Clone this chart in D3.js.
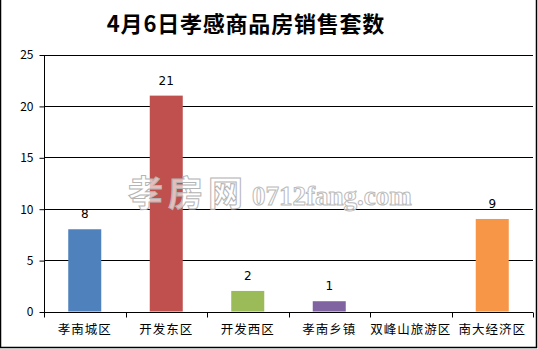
<!DOCTYPE html>
<html>
<head>
<meta charset="utf-8">
<script src="https://cdn.jsdelivr.net/npm/d3@7"></script>
<style>
	body { margin: 0; background: #fff; }
	svg text { font-family: "Noto Sans CJK SC", "DejaVu Sans", sans-serif; }
</style>
</head>
<body>
<svg id="chart" width="538" height="349"></svg>
<script>
// data
let categories = ['孝南城区', '开发东区', '开发西区', '孝南乡镇', '双峰山旅游区', '南大经济区'];
let values = [8, 21, 2, 1, 0, 9];
let colors = ['#4F81BD', '#C0504D', '#9BBB59', '#8064A2', '#4BACC6', '#F79646'];
let yTicks = [0, 5, 10, 15, 20, 25];
let title = '4月6日孝感商品房销售套数';

let margin = { top: 54.5, right: 5, bottom: 37.5, left: 44 };
let W = 538, H = 349;
let svg = d3.select('svg#chart');

// outer frame
svg.append('path')
	.attr('d', 'M0.5,0 V347.5 H536.5 V0')
	.attr('fill', 'none')
	.attr('stroke', '#000')
	.attr('stroke-width', 1.5);

svg.append('text')
	.attr('x', 246)
	.attr('y', 32)
	.attr('text-anchor', 'middle')
	.attr('font-size', 22)
	.attr('font-weight', 'bold')
	.style('letter-spacing', '0.8px')
	.attr('fill', '#000')
	.text(title);

let x = d3.scaleBand(categories, [margin.left, W - margin.right]).paddingInner(0).paddingOuter(0);
let y = d3.scaleLinear([0, 25], [H - margin.bottom, margin.top]);

//gridlines
svg.append('g').selectAll('line.grid')
	.data(yTicks.slice(1))
	.join('line')
	.attr('class', 'grid')
	.attr('x1', margin.left)
	.attr('x2', W - margin.right)
	.attr('y1', d => Math.round(y(d)) + 0.5)
	.attr('y2', d => Math.round(y(d)) + 0.5)
	.attr('stroke', '#000');

// y axis
let yAxis = svg.append('g')
	.attr('transform', 'translate(' + (margin.left + 0.5) + ',0.5)')
	.call(d3.axisLeft(y).tickValues(yTicks).tickSize(5).tickPadding(6).tickFormat(d3.format('d')));
yAxis.selectAll('text').attr('font-size', 12).attr('fill', '#000').attr('font-family', '"DejaVu Sans", sans-serif');
yAxis.selectAll('line, path').attr('stroke', '#000');
yAxis.select('path').attr('d', 'M0,' + Math.round(y(0)) + 'V' + Math.round(y(25)));

// bars
let bw = x.bandwidth() * 0.405;
svg.append('g').selectAll('rect.bar')
	.data(values)
	.join('rect')
	.attr('class', 'bar')
	.attr('x', (d, i) => x(categories[i]) + (x.bandwidth() - bw) / 2)
	.attr('y', d => y(d))
	.attr('width', bw)
	.attr('height', d => y(0) - y(d))
	.attr('fill', (d, i) => colors[i]);

// watermark (drawn over the bars)
let wm = svg.append('g');
wm.append('text')
	.attr('x', 128)
	.attr('y', 206)
	.attr('font-size', 35)
	.attr('font-weight', 'bold')
	.style('letter-spacing', '5px')
	.attr('fill', '#fff')
	.attr('fill-opacity', 0.65)
	.attr('stroke', '#b4b4b4')
	.attr('stroke-width', 1)
	.text('孝房网');
wm.append('text')
	.attr('x', 252)
	.attr('y', 205)
	.attr('font-size', 27)
	.attr('font-weight', 'bold')
	.style('font-family', '"Liberation Serif", serif')
	.attr('fill', '#fff')
	.attr('fill-opacity', 0.65)
	.attr('stroke', '#bbb')
	.attr('stroke-width', 1)
	.text('0712fang.com');

// value labels
svg.append('g').selectAll('text.val')
	.data(values)
	.join('text')
	.attr('class', 'val')
	.filter(d => d > 0)
	.attr('x', (d, i) => x(categories[values.indexOf(d)]) + x.bandwidth() / 2)
	.attr('y', d => y(d) - 11)
	.attr('text-anchor', 'middle')
	.attr('font-size', 12)
	.style('font-family', '"DejaVu Sans", sans-serif')
	.text(d => d);

// x axis
let baseY = Math.round(y(0)) + 0.5;
let xg = svg.append('g');
xg.append('line')
	.attr('x1', margin.left).attr('x2', W - margin.right)
	.attr('y1', baseY).attr('y2', baseY)
	.attr('stroke', '#000');
xg.selectAll('line.tick')
	.data(categories.map(c => x(c)).concat([W - margin.right]))
	.join('line')
	.attr('class', 'tick')
	.attr('x1', d => Math.round(d) + 0.5).attr('x2', d => Math.round(d) + 0.5)
	.attr('y1', baseY).attr('y2', baseY + 5)
	.attr('stroke', '#000');
xg.selectAll('text')
	.data(categories)
	.join('text')
	.attr('x', d => x(d) + x.bandwidth() / 2)
	.attr('y', baseY + 21)
	.attr('text-anchor', 'middle')
	.attr('font-size', 12.5)
	.style('letter-spacing', '1px')
	.text(d => d);
</script>
</body>
</html>
